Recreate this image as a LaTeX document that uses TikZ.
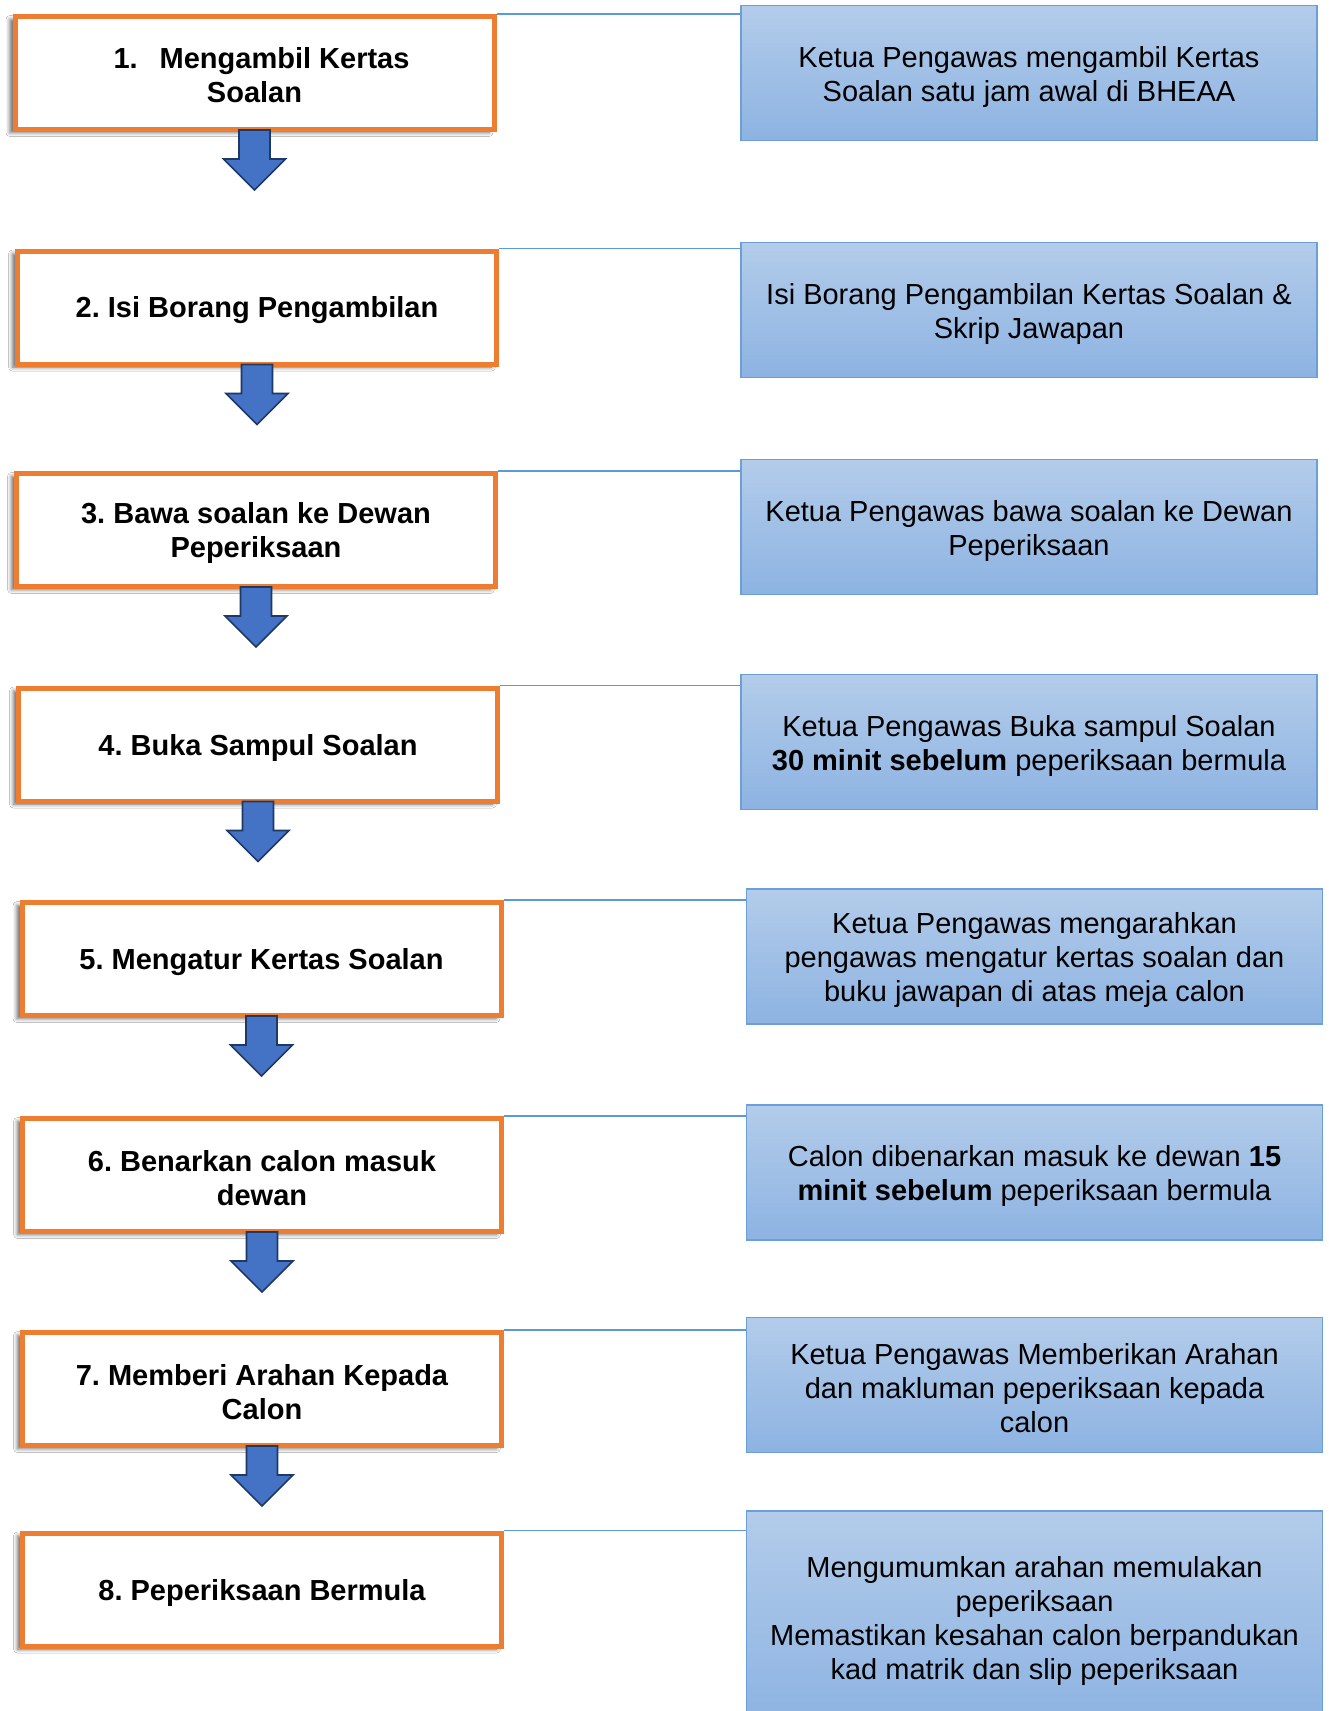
\documentclass[tikz,border=0pt]{standalone}
\usepackage{fontspec}
\setmainfont{Liberation Sans}
\usetikzlibrary{shadows.blur,calc}
\definecolor{orng}{HTML}{ED7D31}
\definecolor{arrfill}{HTML}{4472C4}
\definecolor{arrdraw}{HTML}{1F3864}
\definecolor{rtop}{HTML}{B3CCEA}
\definecolor{rbot}{HTML}{8DB3E2}
\definecolor{rdraw}{HTML}{6A9FD8}
\definecolor{lnk}{HTML}{5B9BD5}
\tikzset{
  lbox/.style={draw=orng, line width=5pt, fill=white, minimum width=479pt, minimum height=113pt, inner sep=0pt,
    blur shadow={shadow xshift=-5pt, shadow yshift=-3pt, shadow blur radius=4pt, shadow opacity=60}},
  ltext/.style={align=center, font=\fontsize{29}{34}\selectfont\bfseries, inner sep=0pt},
  rbox/.style={draw=rdraw, line width=1.3pt, top color=rtop, bottom color=rbot, minimum width=576pt, minimum height=135pt, inner sep=0pt},
  rtext/.style={align=center, font=\fontsize{29}{34}\selectfont, inner sep=0pt},
  barrow/.style={fill=arrfill, draw=arrdraw, line width=1.6pt, line join=miter},
  link/.style={draw=lnk, line width=1.3pt}
}
\newcommand\blockarrow[1]{%
  \draw[barrow] ([shift={(-15.5,-2)}]#1) -- ([shift={(15.5,-2)}]#1) -- ([shift={(15.5,27)}]#1)
   -- ([shift={(31,27)}]#1) -- ([shift={(0,58)}]#1) -- ([shift={(-31,27)}]#1)
   -- ([shift={(-15.5,27)}]#1) -- cycle;}
\frenchspacing
\begin{document}
\begin{tikzpicture}[x=1pt,y=-1pt]
\useasboundingbox[fill=white] (0,0) rectangle (1329,1711);
% right boxes
\node[rbox] (r1) at (1029,73) {};
\node[rbox] (r2) at (1029,310) {};
\node[rbox] (r3) at (1029,527) {};
\node[rbox] (r4) at (1029,742) {};
\node[rbox] (r5) at (1034.5,956.5) {};
\node[rbox] (r6) at (1034.5,1172.5) {};
\node[rbox] (r7) at (1034.5,1385) {};
\node[rbox, minimum height=212pt] (r8) at (1034.5,1617) {};
\node[rtext] (r1t) at ([yshift=-3.5pt]r1.center) {Ketua Pengawas mengambil Kertas\\Soalan satu jam awal di BHEAA};
\node[rtext] (r2t) at ([yshift=-3.5pt]r2.center) {Isi Borang Pengambilan Kertas Soalan \&\\Skrip Jawapan};
\node[rtext] (r3t) at ([yshift=-3.5pt]r3.center) {Ketua Pengawas bawa soalan ke Dewan\\Peperiksaan};
\node[rtext] (r4t) at ([yshift=-3.5pt]r4.center) {Ketua Pengawas Buka sampul Soalan\\\textbf{30 minit sebelum} peperiksaan bermula};
\node[rtext] (r5t) at ([yshift=-3.5pt]r5.center) {Ketua Pengawas mengarahkan\\pengawas mengatur kertas soalan dan\\buku jawapan di atas meja calon};
\node[rtext] (r6t) at ([yshift=-3.5pt]r6.center) {Calon dibenarkan masuk ke dewan \textbf{15}\\\textbf{minit sebelum} peperiksaan bermula};
\node[rtext] (r7t) at ([yshift=-3.5pt]r7.center) {Ketua Pengawas Memberikan Arahan\\dan makluman peperiksaan kepada\\calon};
\node[rtext] (r8t) at ([yshift=-3.5pt]r8.center) {Mengumumkan arahan memulakan\\peperiksaan\\Memastikan kesahan calon berpandukan\\kad matrik dan slip peperiksaan};
% left boxes
\node[lbox] (l1) at (254.5,73) {};
\node[lbox] (l2) at (257,307.5) {};
\node[lbox] (l3) at (256,530) {};
\node[lbox] (l4) at (258,744.5) {};
\node[lbox] (l5) at (261.5,959) {};
\node[lbox] (l6) at (262,1175) {};
\node[lbox] (l7) at (262,1389) {};
\node[lbox] (l8) at (262,1589.5) {};
\node[ltext] (l1t) at ([yshift=-2pt]l1.center) {\hspace*{14pt}1.\hspace{22pt}Mengambil Kertas\\Soalan};
\node[ltext] (l2t) at ([yshift=-3pt]l2.center) {2. Isi Borang Pengambilan};
\node[ltext] (l3t) at ([yshift=-3pt]l3.center) {3. Bawa soalan ke Dewan\\Peperiksaan};
\node[ltext] (l4t) at ([yshift=-3pt]l4.center) {4. Buka Sampul Soalan};
\node[ltext] (l5t) at ([yshift=-3pt]l5.center) {5. Mengatur Kertas Soalan};
\node[ltext] (l6t) at ([yshift=-3pt]l6.center) {6. Benarkan calon masuk\\dewan};
\node[ltext] (l7t) at ([yshift=-3pt]l7.center) {7. Memberi Arahan Kepada\\Calon};
\node[ltext] (l8t) at ([yshift=-3pt]l8.center) {8. Peperiksaan Bermula};
% links
\foreach \i in {1,...,8}{\draw[link] (l\i.north east) -- (l\i.north east -| r\i.west);}
% block arrows
\blockarrow{l1.south}
\blockarrow{l2.south}
\blockarrow{l3.south}
\blockarrow{l4.south}
\blockarrow{l5.south}
\blockarrow{l6.south}
\blockarrow{l7.south}
\end{tikzpicture}
\end{document}
